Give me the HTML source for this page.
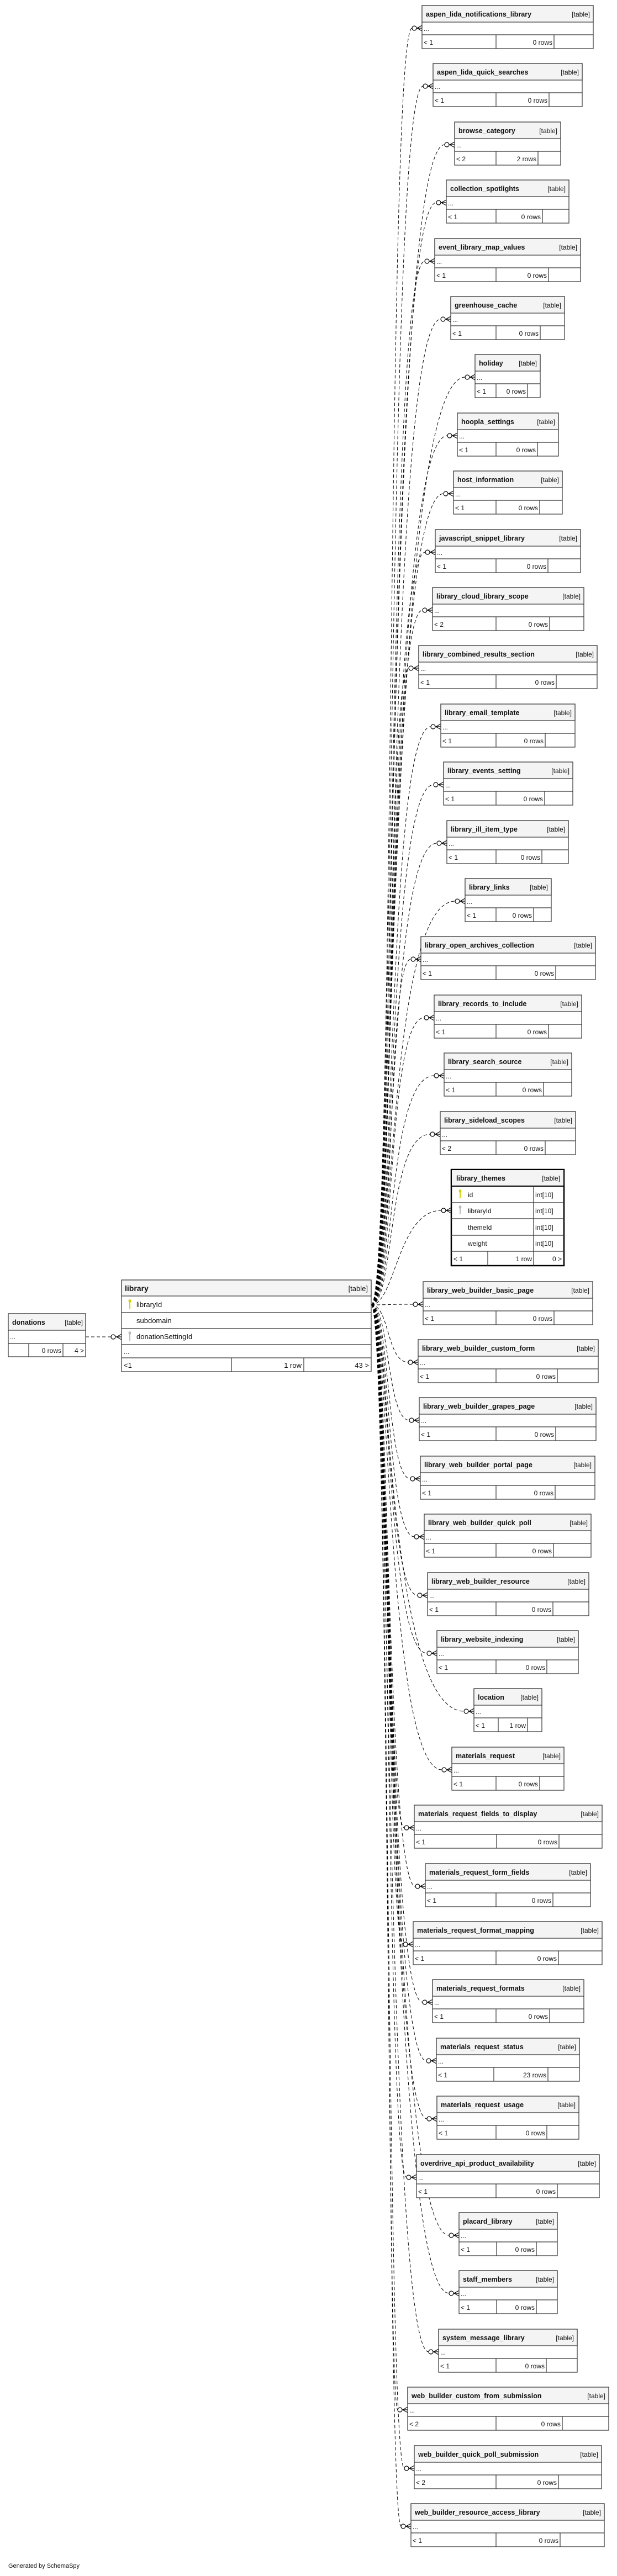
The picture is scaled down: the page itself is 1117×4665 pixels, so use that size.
<!DOCTYPE html>
<html><head><meta charset="utf-8"><style>
html,body{margin:0;padding:0;background:#fff}
svg{display:block}
text{font-family:"Liberation Sans","DejaVu Sans",sans-serif;font-size:12px;fill:#111}
.h{font-weight:bold;font-size:12.5px}
.lh{font-weight:bold;font-size:14px}
.lt{font-size:13px}
.box rect{fill:#fff;stroke:#333;stroke-width:1.2}
.box .hd{fill:#f4f4f4}
.box line{stroke:#333;stroke-width:1.2}
.e{fill:none;stroke:#000;stroke-width:1;stroke-dasharray:6,4}
.m{fill:none;stroke:#000;stroke-width:1.2}
.m circle{fill:#fff}
</style></head><body>
<svg width="1117" height="4665" viewBox="0 0 1117 4665" xmlns="http://www.w3.org/2000/svg">
<!-- edges -->
<g class="e">
<path d="M672,2363 C715,2363 700,51 746,51"/>
<path d="M672,2363 C715,2363 700,156 766,156"/>
<path d="M672,2363 C715,2363 700,262 805,262"/>
<path d="M672,2363 C715,2363 700,367 790,367"/>
<path d="M672,2363 C715,2363 700,473 769,473"/>
<path d="M672,2363 C715,2363 700,578 798,578"/>
<path d="M672,2363 C715,2363 700,683 842,683"/>
<path d="M672,2363 C715,2363 700,789 810,789"/>
<path d="M672,2363 C715,2363 700,894 803,894"/>
<path d="M672,2363 C715,2363 700,1000 770,1000"/>
<path d="M672,2363 C715,2363 700,1105 765,1105"/>
<path d="M672,2363 C715,2363 700,1210 740,1210"/>
<path d="M672,2363 C715,2363 700,1316 780,1316"/>
<path d="M672,2363 C715,2363 700,1421 785,1421"/>
<path d="M672,2363 C715,2363 700,1527 791,1527"/>
<path d="M672,2363 C715,2363 700,1632 824,1632"/>
<path d="M672,2363 C715,2363 700,1737 744,1737"/>
<path d="M672,2363 C715,2363 700,1843 768,1843"/>
<path d="M672,2363 C715,2363 700,1948 786,1948"/>
<path d="M672,2363 C715,2363 700,2054 779,2054"/>
<path d="M672,2363 C715,2363 720,2192 799,2192"/>
<path d="M672,2363 C700,2363 700,2362 748,2362"/>
<path d="M672,2363 C705,2363 700,2467 739,2467"/>
<path d="M672,2363 C705,2363 700,2572 741,2572"/>
<path d="M672,2363 C705,2363 700,2678 743,2678"/>
<path d="M672,2363 C705,2363 700,2783 750,2783"/>
<path d="M672,2363 C705,2363 700,2889 756,2889"/>
<path d="M672,2363 C705,2363 700,2994 773,2994"/>
<path d="M672,2363 C705,2363 700,3099 840,3099"/>
<path d="M672,2363 C705,2363 700,3205 800,3205"/>
<path d="M672,2363 C705,2363 700,3310 732,3310"/>
<path d="M672,2363 C705,2363 700,3416 752,3416"/>
<path d="M672,2363 C705,2363 700,3521 730,3521"/>
<path d="M672,2363 C705,2363 700,3626 765,3626"/>
<path d="M672,2363 C705,2363 700,3732 772,3732"/>
<path d="M672,2363 C705,2363 700,3837 773,3837"/>
<path d="M672,2363 C705,2363 700,3943 736,3943"/>
<path d="M672,2363 C705,2363 700,4048 813,4048"/>
<path d="M672,2363 C705,2363 700,4153 813,4153"/>
<path d="M672,2363 C705,2363 700,4259 776,4259"/>
<path d="M672,2363 C705,2363 700,4364 720,4364"/>
<path d="M672,2363 C705,2363 700,4470 732,4470"/>
<path d="M672,2363 C705,2363 700,4575 726,4575"/>
<path d="M155,2421 H201"/>
</g>
<g class="m">
<path d="M746,51H764M755,51L764,46M755,51L764,56"/><circle cx="750" cy="51" r="4"/>
<path d="M766,156H784M775,156L784,151M775,156L784,161"/><circle cx="770" cy="156" r="4"/>
<path d="M805,262H823M814,262L823,257M814,262L823,267"/><circle cx="809" cy="262" r="4"/>
<path d="M790,367H808M799,367L808,362M799,367L808,372"/><circle cx="794" cy="367" r="4"/>
<path d="M769,473H787M778,473L787,468M778,473L787,478"/><circle cx="773" cy="473" r="4"/>
<path d="M798,578H816M807,578L816,573M807,578L816,583"/><circle cx="802" cy="578" r="4"/>
<path d="M842,683H860M851,683L860,678M851,683L860,688"/><circle cx="846" cy="683" r="4"/>
<path d="M810,789H828M819,789L828,784M819,789L828,794"/><circle cx="814" cy="789" r="4"/>
<path d="M803,894H821M812,894L821,889M812,894L821,899"/><circle cx="807" cy="894" r="4"/>
<path d="M770,1000H788M779,1000L788,995M779,1000L788,1005"/><circle cx="774" cy="1000" r="4"/>
<path d="M765,1105H783M774,1105L783,1100M774,1105L783,1110"/><circle cx="769" cy="1105" r="4"/>
<path d="M740,1210H758M749,1210L758,1205M749,1210L758,1215"/><circle cx="744" cy="1210" r="4"/>
<path d="M780,1316H798M789,1316L798,1311M789,1316L798,1321"/><circle cx="784" cy="1316" r="4"/>
<path d="M785,1421H803M794,1421L803,1416M794,1421L803,1426"/><circle cx="789" cy="1421" r="4"/>
<path d="M791,1527H809M800,1527L809,1522M800,1527L809,1532"/><circle cx="795" cy="1527" r="4"/>
<path d="M824,1632H842M833,1632L842,1627M833,1632L842,1637"/><circle cx="828" cy="1632" r="4"/>
<path d="M744,1737H762M753,1737L762,1732M753,1737L762,1742"/><circle cx="748" cy="1737" r="4"/>
<path d="M768,1843H786M777,1843L786,1838M777,1843L786,1848"/><circle cx="772" cy="1843" r="4"/>
<path d="M786,1948H804M795,1948L804,1943M795,1948L804,1953"/><circle cx="790" cy="1948" r="4"/>
<path d="M779,2054H797M788,2054L797,2049M788,2054L797,2059"/><circle cx="783" cy="2054" r="4"/>
<path d="M799,2192H817M808,2192L817,2187M808,2192L817,2197"/><circle cx="803" cy="2192" r="4"/>
<path d="M748,2362H766M757,2362L766,2357M757,2362L766,2367"/><circle cx="752" cy="2362" r="4"/>
<path d="M739,2467H757M748,2467L757,2462M748,2467L757,2472"/><circle cx="743" cy="2467" r="4"/>
<path d="M741,2572H759M750,2572L759,2567M750,2572L759,2577"/><circle cx="745" cy="2572" r="4"/>
<path d="M743,2678H761M752,2678L761,2673M752,2678L761,2683"/><circle cx="747" cy="2678" r="4"/>
<path d="M750,2783H768M759,2783L768,2778M759,2783L768,2788"/><circle cx="754" cy="2783" r="4"/>
<path d="M756,2889H774M765,2889L774,2884M765,2889L774,2894"/><circle cx="760" cy="2889" r="4"/>
<path d="M773,2994H791M782,2994L791,2989M782,2994L791,2999"/><circle cx="777" cy="2994" r="4"/>
<path d="M840,3099H858M849,3099L858,3094M849,3099L858,3104"/><circle cx="844" cy="3099" r="4"/>
<path d="M800,3205H818M809,3205L818,3200M809,3205L818,3210"/><circle cx="804" cy="3205" r="4"/>
<path d="M732,3310H750M741,3310L750,3305M741,3310L750,3315"/><circle cx="736" cy="3310" r="4"/>
<path d="M752,3416H770M761,3416L770,3411M761,3416L770,3421"/><circle cx="756" cy="3416" r="4"/>
<path d="M730,3521H748M739,3521L748,3516M739,3521L748,3526"/><circle cx="734" cy="3521" r="4"/>
<path d="M765,3626H783M774,3626L783,3621M774,3626L783,3631"/><circle cx="769" cy="3626" r="4"/>
<path d="M772,3732H790M781,3732L790,3727M781,3732L790,3737"/><circle cx="776" cy="3732" r="4"/>
<path d="M773,3837H791M782,3837L791,3832M782,3837L791,3842"/><circle cx="777" cy="3837" r="4"/>
<path d="M736,3943H754M745,3943L754,3938M745,3943L754,3948"/><circle cx="740" cy="3943" r="4"/>
<path d="M813,4048H831M822,4048L831,4043M822,4048L831,4053"/><circle cx="817" cy="4048" r="4"/>
<path d="M813,4153H831M822,4153L831,4148M822,4153L831,4158"/><circle cx="817" cy="4153" r="4"/>
<path d="M776,4259H794M785,4259L794,4254M785,4259L794,4264"/><circle cx="780" cy="4259" r="4"/>
<path d="M720,4364H738M729,4364L738,4359M729,4364L738,4369"/><circle cx="724" cy="4364" r="4"/>
<path d="M732,4470H750M741,4470L750,4465M741,4470L750,4475"/><circle cx="736" cy="4470" r="4"/>
<path d="M726,4575H744M735,4575L744,4570M735,4575L744,4580"/><circle cx="730" cy="4575" r="4"/>
<path d="M201,2421H220M211,2421L220,2416M211,2421L220,2426"/><circle cx="205" cy="2421" r="4"/>
</g>

<!-- donations -->
<g class="box" transform="translate(15,2379)">
<rect width="140" height="78"/><rect class="hd" width="140" height="30"/>
<line x1="0" y1="54" x2="140" y2="54"/><line x1="37" y1="54" x2="37" y2="78"/><line x1="99" y1="54" x2="99" y2="78"/>
<text class="h" x="7" y="20">donations</text><text x="135" y="20" text-anchor="end">[table]</text>
<text x="3" y="46">...</text><text x="96" y="71" text-anchor="end">0 rows</text><text x="137" y="71" text-anchor="end">4 &gt;</text>
</g>

<!-- library -->
<g class="box" transform="translate(220,2318)">
<rect width="452" height="166"/><rect class="hd" width="452" height="29"/>
<line x1="0" y1="59" x2="452" y2="59"/><line x1="0" y1="88" x2="452" y2="88"/><line x1="0" y1="117" x2="452" y2="117"/><line x1="0" y1="141" x2="452" y2="141"/>
<line x1="199" y1="141" x2="199" y2="166"/><line x1="330" y1="141" x2="330" y2="166"/>
<text class="lh" x="6" y="20">library</text><text class="lt" x="446" y="20" text-anchor="end">[table]</text>
<ellipse cx="15" cy="38" rx="2.5" ry="3" fill="#d4d400" stroke="none"/><line x1="15" y1="40" x2="15" y2="52" stroke="#d4d400" style="stroke:#d4d400;stroke-width:2"/>
<text class="lt" x="27" y="49">libraryId</text>
<text class="lt" x="27" y="78">subdomain</text>
<ellipse cx="15" cy="96" rx="2.5" ry="3" fill="#bbb" stroke="none"/><line x1="15" y1="98" x2="15" y2="110" style="stroke:#bbb;stroke-width:2"/>
<text class="lt" x="27" y="107">donationSettingId</text>
<text x="4" y="134">...</text>
<text class="lt" x="4" y="159">&lt;1</text><text class="lt" x="326" y="159" text-anchor="end">1 row</text><text class="lt" x="448" y="159" text-anchor="end">43 &gt;</text>
</g>

<!-- library_themes -->
<g class="box" transform="translate(817,2118)">
<rect width="204" height="174" style="stroke:#000;stroke-width:2.5"/><rect class="hd" width="204" height="30" style="stroke:#000;stroke-width:2"/>
<line x1="0" y1="60" x2="204" y2="60"/><line x1="0" y1="89" x2="204" y2="89"/><line x1="0" y1="119" x2="204" y2="119"/><line x1="0" y1="148" x2="204" y2="148"/>
<line x1="149" y1="30" x2="149" y2="174"/><line x1="66" y1="148" x2="66" y2="174"/>
<text class="h" x="9" y="20">library_themes</text><text x="197" y="20" text-anchor="end">[table]</text>
<ellipse cx="16" cy="39" rx="2.5" ry="3" fill="#d4d400" stroke="none"/><line x1="16" y1="41" x2="16" y2="52" style="stroke:#d4d400;stroke-width:2"/>
<text x="30" y="50">id</text><text x="152" y="50">int[10]</text>
<ellipse cx="16" cy="68" rx="2.5" ry="3" fill="#bbb" stroke="none"/><line x1="16" y1="70" x2="16" y2="81" style="stroke:#bbb;stroke-width:2"/>
<text x="30" y="79">libraryId</text><text x="152" y="79">int[10]</text>
<text x="30" y="109">themeId</text><text x="152" y="109">int[10]</text>
<text x="30" y="138">weight</text><text x="152" y="138">int[10]</text>
<text x="4" y="166">&lt; 1</text><text x="146" y="166" text-anchor="end">1 row</text><text x="200" y="166" text-anchor="end">0 &gt;</text>
</g>

<!-- small tables: translate(x,top); width W; dividers d1,d2 relative -->
<g class="box" transform="translate(764,10)"><rect width="310" height="78"/><rect class="hd" width="310" height="30"/><line x1="0" y1="53" x2="310" y2="53"/><line x1="134" y1="53" x2="134" y2="78"/><line x1="239" y1="53" x2="239" y2="78"/><text class="h" x="7" y="20">aspen_lida_notifications_library</text><text x="304" y="20" text-anchor="end">[table]</text><text x="3" y="46">...</text><text x="3" y="71">&lt; 1</text><text x="236" y="71" text-anchor="end">0 rows</text></g>
<g class="box" transform="translate(784,115)"><rect width="270" height="78"/><rect class="hd" width="270" height="30"/><line x1="0" y1="53" x2="270" y2="53"/><line x1="114" y1="53" x2="114" y2="78"/><line x1="210" y1="53" x2="210" y2="78"/><text class="h" x="7" y="20">aspen_lida_quick_searches</text><text x="264" y="20" text-anchor="end">[table]</text><text x="3" y="46">...</text><text x="3" y="71">&lt; 1</text><text x="207" y="71" text-anchor="end">0 rows</text></g>
<g class="box" transform="translate(823,221)"><rect width="192" height="78"/><rect class="hd" width="192" height="30"/><line x1="0" y1="53" x2="192" y2="53"/><line x1="75" y1="53" x2="75" y2="78"/><line x1="151" y1="53" x2="151" y2="78"/><text class="h" x="7" y="20">browse_category</text><text x="186" y="20" text-anchor="end">[table]</text><text x="3" y="46">...</text><text x="3" y="71">&lt; 2</text><text x="148" y="71" text-anchor="end">2 rows</text></g>
<g class="box" transform="translate(808,326)"><rect width="222" height="78"/><rect class="hd" width="222" height="30"/><line x1="0" y1="53" x2="222" y2="53"/><line x1="90" y1="53" x2="90" y2="78"/><line x1="174" y1="53" x2="174" y2="78"/><text class="h" x="7" y="20">collection_spotlights</text><text x="216" y="20" text-anchor="end">[table]</text><text x="3" y="46">...</text><text x="3" y="71">&lt; 1</text><text x="171" y="71" text-anchor="end">0 rows</text></g>
<g class="box" transform="translate(787,432)"><rect width="264" height="78"/><rect class="hd" width="264" height="30"/><line x1="0" y1="53" x2="264" y2="53"/><line x1="111" y1="53" x2="111" y2="78"/><line x1="206" y1="53" x2="206" y2="78"/><text class="h" x="7" y="20">event_library_map_values</text><text x="258" y="20" text-anchor="end">[table]</text><text x="3" y="46">...</text><text x="3" y="71">&lt; 1</text><text x="203" y="71" text-anchor="end">0 rows</text></g>
<g class="box" transform="translate(816,537)"><rect width="206" height="78"/><rect class="hd" width="206" height="30"/><line x1="0" y1="53" x2="206" y2="53"/><line x1="82" y1="53" x2="82" y2="78"/><line x1="162" y1="53" x2="162" y2="78"/><text class="h" x="7" y="20">greenhouse_cache</text><text x="200" y="20" text-anchor="end">[table]</text><text x="3" y="46">...</text><text x="3" y="71">&lt; 1</text><text x="159" y="71" text-anchor="end">0 rows</text></g>
<g class="box" transform="translate(860,642)"><rect width="118" height="78"/><rect class="hd" width="118" height="30"/><line x1="0" y1="53" x2="118" y2="53"/><line x1="38" y1="53" x2="38" y2="78"/><line x1="95" y1="53" x2="95" y2="78"/><text class="h" x="7" y="20">holiday</text><text x="112" y="20" text-anchor="end">[table]</text><text x="3" y="46">...</text><text x="3" y="71">&lt; 1</text><text x="92" y="71" text-anchor="end">0 rows</text></g>
<g class="box" transform="translate(828,748)"><rect width="183" height="78"/><rect class="hd" width="183" height="30"/><line x1="0" y1="53" x2="183" y2="53"/><line x1="70" y1="53" x2="70" y2="78"/><line x1="145" y1="53" x2="145" y2="78"/><text class="h" x="7" y="20">hoopla_settings</text><text x="177" y="20" text-anchor="end">[table]</text><text x="3" y="46">...</text><text x="3" y="71">&lt; 1</text><text x="142" y="71" text-anchor="end">0 rows</text></g>
<g class="box" transform="translate(821,853)"><rect width="197" height="78"/><rect class="hd" width="197" height="30"/><line x1="0" y1="53" x2="197" y2="53"/><line x1="77" y1="53" x2="77" y2="78"/><line x1="156" y1="53" x2="156" y2="78"/><text class="h" x="7" y="20">host_information</text><text x="191" y="20" text-anchor="end">[table]</text><text x="3" y="46">...</text><text x="3" y="71">&lt; 1</text><text x="153" y="71" text-anchor="end">0 rows</text></g>
<g class="box" transform="translate(788,959)"><rect width="263" height="78"/><rect class="hd" width="263" height="30"/><line x1="0" y1="53" x2="263" y2="53"/><line x1="110" y1="53" x2="110" y2="78"/><line x1="204" y1="53" x2="204" y2="78"/><text class="h" x="7" y="20">javascript_snippet_library</text><text x="257" y="20" text-anchor="end">[table]</text><text x="3" y="46">...</text><text x="3" y="71">&lt; 1</text><text x="201" y="71" text-anchor="end">0 rows</text></g>
<g class="box" transform="translate(783,1064)"><rect width="274" height="78"/><rect class="hd" width="274" height="30"/><line x1="0" y1="53" x2="274" y2="53"/><line x1="115" y1="53" x2="115" y2="78"/><line x1="212" y1="53" x2="212" y2="78"/><text class="h" x="7" y="20">library_cloud_library_scope</text><text x="268" y="20" text-anchor="end">[table]</text><text x="3" y="46">...</text><text x="3" y="71">&lt; 2</text><text x="209" y="71" text-anchor="end">0 rows</text></g>
<g class="box" transform="translate(758,1169)"><rect width="323" height="78"/><rect class="hd" width="323" height="30"/><line x1="0" y1="53" x2="323" y2="53"/><line x1="140" y1="53" x2="140" y2="78"/><line x1="249" y1="53" x2="249" y2="78"/><text class="h" x="7" y="20">library_combined_results_section</text><text x="317" y="20" text-anchor="end">[table]</text><text x="3" y="46">...</text><text x="3" y="71">&lt; 1</text><text x="246" y="71" text-anchor="end">0 rows</text></g>
<g class="box" transform="translate(798,1275)"><rect width="243" height="78"/><rect class="hd" width="243" height="30"/><line x1="0" y1="53" x2="243" y2="53"/><line x1="100" y1="53" x2="100" y2="78"/><line x1="189" y1="53" x2="189" y2="78"/><text class="h" x="7" y="20">library_email_template</text><text x="237" y="20" text-anchor="end">[table]</text><text x="3" y="46">...</text><text x="3" y="71">&lt; 1</text><text x="186" y="71" text-anchor="end">0 rows</text></g>
<g class="box" transform="translate(803,1380)"><rect width="234" height="78"/><rect class="hd" width="234" height="30"/><line x1="0" y1="53" x2="234" y2="53"/><line x1="95" y1="53" x2="95" y2="78"/><line x1="183" y1="53" x2="183" y2="78"/><text class="h" x="7" y="20">library_events_setting</text><text x="228" y="20" text-anchor="end">[table]</text><text x="3" y="46">...</text><text x="3" y="71">&lt; 1</text><text x="180" y="71" text-anchor="end">0 rows</text></g>
<g class="box" transform="translate(809,1486)"><rect width="220" height="78"/><rect class="hd" width="220" height="30"/><line x1="0" y1="53" x2="220" y2="53"/><line x1="89" y1="53" x2="89" y2="78"/><line x1="172" y1="53" x2="172" y2="78"/><text class="h" x="7" y="20">library_ill_item_type</text><text x="214" y="20" text-anchor="end">[table]</text><text x="3" y="46">...</text><text x="3" y="71">&lt; 1</text><text x="169" y="71" text-anchor="end">0 rows</text></g>
<g class="box" transform="translate(842,1591)"><rect width="156" height="78"/><rect class="hd" width="156" height="30"/><line x1="0" y1="53" x2="156" y2="53"/><line x1="56" y1="53" x2="56" y2="78"/><line x1="124" y1="53" x2="124" y2="78"/><text class="h" x="7" y="20">library_links</text><text x="150" y="20" text-anchor="end">[table]</text><text x="3" y="46">...</text><text x="3" y="71">&lt; 1</text><text x="121" y="71" text-anchor="end">0 rows</text></g>
<g class="box" transform="translate(762,1696)"><rect width="316" height="78"/><rect class="hd" width="316" height="30"/><line x1="0" y1="53" x2="316" y2="53"/><line x1="136" y1="53" x2="136" y2="78"/><line x1="244" y1="53" x2="244" y2="78"/><text class="h" x="7" y="20">library_open_archives_collection</text><text x="310" y="20" text-anchor="end">[table]</text><text x="3" y="46">...</text><text x="3" y="71">&lt; 1</text><text x="241" y="71" text-anchor="end">0 rows</text></g>
<g class="box" transform="translate(786,1802)"><rect width="267" height="78"/><rect class="hd" width="267" height="30"/><line x1="0" y1="53" x2="267" y2="53"/><line x1="112" y1="53" x2="112" y2="78"/><line x1="207" y1="53" x2="207" y2="78"/><text class="h" x="7" y="20">library_records_to_include</text><text x="261" y="20" text-anchor="end">[table]</text><text x="3" y="46">...</text><text x="3" y="71">&lt; 1</text><text x="204" y="71" text-anchor="end">0 rows</text></g>
<g class="box" transform="translate(804,1907)"><rect width="231" height="78"/><rect class="hd" width="231" height="30"/><line x1="0" y1="53" x2="231" y2="53"/><line x1="94" y1="53" x2="94" y2="78"/><line x1="180" y1="53" x2="180" y2="78"/><text class="h" x="7" y="20">library_search_source</text><text x="225" y="20" text-anchor="end">[table]</text><text x="3" y="46">...</text><text x="3" y="71">&lt; 1</text><text x="177" y="71" text-anchor="end">0 rows</text></g>
<g class="box" transform="translate(797,2013)"><rect width="245" height="78"/><rect class="hd" width="245" height="30"/><line x1="0" y1="53" x2="245" y2="53"/><line x1="101" y1="53" x2="101" y2="78"/><line x1="190" y1="53" x2="190" y2="78"/><text class="h" x="7" y="20">library_sideload_scopes</text><text x="239" y="20" text-anchor="end">[table]</text><text x="3" y="46">...</text><text x="3" y="71">&lt; 2</text><text x="187" y="71" text-anchor="end">0 rows</text></g>

<g class="box" transform="translate(766,2321)"><rect width="307" height="78"/><rect class="hd" width="307" height="30"/><line x1="0" y1="53" x2="307" y2="53"/><line x1="132" y1="53" x2="132" y2="78"/><line x1="237" y1="53" x2="237" y2="78"/><text class="h" x="7" y="20">library_web_builder_basic_page</text><text x="301" y="20" text-anchor="end">[table]</text><text x="3" y="46">...</text><text x="3" y="71">&lt; 1</text><text x="234" y="71" text-anchor="end">0 rows</text></g>
<g class="box" transform="translate(757,2426)"><rect width="326" height="78"/><rect class="hd" width="326" height="30"/><line x1="0" y1="53" x2="326" y2="53"/><line x1="141" y1="53" x2="141" y2="78"/><line x1="252" y1="53" x2="252" y2="78"/><text class="h" x="7" y="20">library_web_builder_custom_form</text><text x="320" y="20" text-anchor="end">[table]</text><text x="3" y="46">...</text><text x="3" y="71">&lt; 1</text><text x="249" y="71" text-anchor="end">0 rows</text></g>
<g class="box" transform="translate(759,2531)"><rect width="320" height="78"/><rect class="hd" width="320" height="30"/><line x1="0" y1="53" x2="320" y2="53"/><line x1="139" y1="53" x2="139" y2="78"/><line x1="247" y1="53" x2="247" y2="78"/><text class="h" x="7" y="20">library_web_builder_grapes_page</text><text x="314" y="20" text-anchor="end">[table]</text><text x="3" y="46">...</text><text x="3" y="71">&lt; 1</text><text x="244" y="71" text-anchor="end">0 rows</text></g>
<g class="box" transform="translate(761,2637)"><rect width="316" height="78"/><rect class="hd" width="316" height="30"/><line x1="0" y1="53" x2="316" y2="53"/><line x1="137" y1="53" x2="137" y2="78"/><line x1="244" y1="53" x2="244" y2="78"/><text class="h" x="7" y="20">library_web_builder_portal_page</text><text x="310" y="20" text-anchor="end">[table]</text><text x="3" y="46">...</text><text x="3" y="71">&lt; 1</text><text x="241" y="71" text-anchor="end">0 rows</text></g>
<g class="box" transform="translate(768,2742)"><rect width="302" height="78"/><rect class="hd" width="302" height="30"/><line x1="0" y1="53" x2="302" y2="53"/><line x1="130" y1="53" x2="130" y2="78"/><line x1="234" y1="53" x2="234" y2="78"/><text class="h" x="7" y="20">library_web_builder_quick_poll</text><text x="296" y="20" text-anchor="end">[table]</text><text x="3" y="46">...</text><text x="3" y="71">&lt; 1</text><text x="231" y="71" text-anchor="end">0 rows</text></g>
<g class="box" transform="translate(774,2848)"><rect width="292" height="78"/><rect class="hd" width="292" height="30"/><line x1="0" y1="53" x2="292" y2="53"/><line x1="124" y1="53" x2="124" y2="78"/><line x1="227" y1="53" x2="227" y2="78"/><text class="h" x="7" y="20">library_web_builder_resource</text><text x="286" y="20" text-anchor="end">[table]</text><text x="3" y="46">...</text><text x="3" y="71">&lt; 1</text><text x="224" y="71" text-anchor="end">0 rows</text></g>
<g class="box" transform="translate(791,2953)"><rect width="256" height="78"/><rect class="hd" width="256" height="30"/><line x1="0" y1="53" x2="256" y2="53"/><line x1="107" y1="53" x2="107" y2="78"/><line x1="199" y1="53" x2="199" y2="78"/><text class="h" x="7" y="20">library_website_indexing</text><text x="250" y="20" text-anchor="end">[table]</text><text x="3" y="46">...</text><text x="3" y="71">&lt; 1</text><text x="196" y="71" text-anchor="end">0 rows</text></g>
<g class="box" transform="translate(858,3058)"><rect width="123" height="78"/><rect class="hd" width="123" height="30"/><line x1="0" y1="53" x2="123" y2="53"/><line x1="44" y1="53" x2="44" y2="78"/><line x1="97" y1="53" x2="97" y2="78"/><text class="h" x="7" y="20">location</text><text x="117" y="20" text-anchor="end">[table]</text><text x="3" y="46">...</text><text x="3" y="71">&lt; 1</text><text x="94" y="71" text-anchor="end">1 row</text></g>
<g class="box" transform="translate(818,3164)"><rect width="203" height="78"/><rect class="hd" width="203" height="30"/><line x1="0" y1="53" x2="203" y2="53"/><line x1="80" y1="53" x2="80" y2="78"/><line x1="159" y1="53" x2="159" y2="78"/><text class="h" x="7" y="20">materials_request</text><text x="197" y="20" text-anchor="end">[table]</text><text x="3" y="46">...</text><text x="3" y="71">&lt; 1</text><text x="156" y="71" text-anchor="end">0 rows</text></g>
<g class="box" transform="translate(750,3269)"><rect width="340" height="78"/><rect class="hd" width="340" height="30"/><line x1="0" y1="53" x2="340" y2="53"/><line x1="149" y1="53" x2="149" y2="78"/><line x1="262" y1="53" x2="262" y2="78"/><text class="h" x="7" y="20">materials_request_fields_to_display</text><text x="334" y="20" text-anchor="end">[table]</text><text x="3" y="46">...</text><text x="3" y="71">&lt; 1</text><text x="259" y="71" text-anchor="end">0 rows</text></g>
<g class="box" transform="translate(770,3375)"><rect width="299" height="78"/><rect class="hd" width="299" height="30"/><line x1="0" y1="53" x2="299" y2="53"/><line x1="128" y1="53" x2="128" y2="78"/><line x1="231" y1="53" x2="231" y2="78"/><text class="h" x="7" y="20">materials_request_form_fields</text><text x="293" y="20" text-anchor="end">[table]</text><text x="3" y="46">...</text><text x="3" y="71">&lt; 1</text><text x="228" y="71" text-anchor="end">0 rows</text></g>
<g class="box" transform="translate(748,3480)"><rect width="342" height="78"/><rect class="hd" width="342" height="30"/><line x1="0" y1="53" x2="342" y2="53"/><line x1="150" y1="53" x2="150" y2="78"/><line x1="263" y1="53" x2="263" y2="78"/><text class="h" x="7" y="20">materials_request_format_mapping</text><text x="336" y="20" text-anchor="end">[table]</text><text x="3" y="46">...</text><text x="3" y="71">&lt; 1</text><text x="260" y="71" text-anchor="end">0 rows</text></g>
<g class="box" transform="translate(783,3585)"><rect width="274" height="78"/><rect class="hd" width="274" height="30"/><line x1="0" y1="53" x2="274" y2="53"/><line x1="115" y1="53" x2="115" y2="78"/><line x1="212" y1="53" x2="212" y2="78"/><text class="h" x="7" y="20">materials_request_formats</text><text x="268" y="20" text-anchor="end">[table]</text><text x="3" y="46">...</text><text x="3" y="71">&lt; 1</text><text x="209" y="71" text-anchor="end">0 rows</text></g>
<g class="box" transform="translate(790,3691)"><rect width="259" height="78"/><rect class="hd" width="259" height="30"/><line x1="0" y1="53" x2="259" y2="53"/><line x1="104" y1="53" x2="104" y2="78"/><line x1="202" y1="53" x2="202" y2="78"/><text class="h" x="7" y="20">materials_request_status</text><text x="253" y="20" text-anchor="end">[table]</text><text x="3" y="46">...</text><text x="3" y="71">&lt; 1</text><text x="199" y="71" text-anchor="end">23 rows</text></g>
<g class="box" transform="translate(791,3796)"><rect width="257" height="78"/><rect class="hd" width="257" height="30"/><line x1="0" y1="53" x2="257" y2="53"/><line x1="107" y1="53" x2="107" y2="78"/><line x1="199" y1="53" x2="199" y2="78"/><text class="h" x="7" y="20">materials_request_usage</text><text x="251" y="20" text-anchor="end">[table]</text><text x="3" y="46">...</text><text x="3" y="71">&lt; 1</text><text x="196" y="71" text-anchor="end">0 rows</text></g>
<g class="box" transform="translate(754,3902)"><rect width="331" height="78"/><rect class="hd" width="331" height="30"/><line x1="0" y1="53" x2="331" y2="53"/><line x1="144" y1="53" x2="144" y2="78"/><line x1="255" y1="53" x2="255" y2="78"/><text class="h" x="7" y="20">overdrive_api_product_availability</text><text x="325" y="20" text-anchor="end">[table]</text><text x="3" y="46">...</text><text x="3" y="71">&lt; 1</text><text x="252" y="71" text-anchor="end">0 rows</text></g>
<g class="box" transform="translate(831,4007)"><rect width="178" height="78"/><rect class="hd" width="178" height="30"/><line x1="0" y1="53" x2="178" y2="53"/><line x1="68" y1="53" x2="68" y2="78"/><line x1="140" y1="53" x2="140" y2="78"/><text class="h" x="7" y="20">placard_library</text><text x="172" y="20" text-anchor="end">[table]</text><text x="3" y="46">...</text><text x="3" y="71">&lt; 1</text><text x="137" y="71" text-anchor="end">0 rows</text></g>
<g class="box" transform="translate(831,4112)"><rect width="178" height="78"/><rect class="hd" width="178" height="30"/><line x1="0" y1="53" x2="178" y2="53"/><line x1="68" y1="53" x2="68" y2="78"/><line x1="140" y1="53" x2="140" y2="78"/><text class="h" x="7" y="20">staff_members</text><text x="172" y="20" text-anchor="end">[table]</text><text x="3" y="46">...</text><text x="3" y="71">&lt; 1</text><text x="137" y="71" text-anchor="end">0 rows</text></g>
<g class="box" transform="translate(794,4218)"><rect width="251" height="78"/><rect class="hd" width="251" height="30"/><line x1="0" y1="53" x2="251" y2="53"/><line x1="104" y1="53" x2="104" y2="78"/><line x1="195" y1="53" x2="195" y2="78"/><text class="h" x="7" y="20">system_message_library</text><text x="245" y="20" text-anchor="end">[table]</text><text x="3" y="46">...</text><text x="3" y="71">&lt; 1</text><text x="192" y="71" text-anchor="end">0 rows</text></g>
<g class="box" transform="translate(738,4323)"><rect width="364" height="78"/><rect class="hd" width="364" height="30"/><line x1="0" y1="53" x2="364" y2="53"/><line x1="160" y1="53" x2="160" y2="78"/><line x1="280" y1="53" x2="280" y2="78"/><text class="h" x="7" y="20">web_builder_custom_from_submission</text><text x="358" y="20" text-anchor="end">[table]</text><text x="3" y="46">...</text><text x="3" y="71">&lt; 2</text><text x="277" y="71" text-anchor="end">0 rows</text></g>
<g class="box" transform="translate(750,4429)"><rect width="339" height="78"/><rect class="hd" width="339" height="30"/><line x1="0" y1="53" x2="339" y2="53"/><line x1="148" y1="53" x2="148" y2="78"/><line x1="261" y1="53" x2="261" y2="78"/><text class="h" x="7" y="20">web_builder_quick_poll_submission</text><text x="333" y="20" text-anchor="end">[table]</text><text x="3" y="46">...</text><text x="3" y="71">&lt; 2</text><text x="258" y="71" text-anchor="end">0 rows</text></g>
<g class="box" transform="translate(744,4534)"><rect width="350" height="78"/><rect class="hd" width="350" height="30"/><line x1="0" y1="53" x2="350" y2="53"/><line x1="154" y1="53" x2="154" y2="78"/><line x1="270" y1="53" x2="270" y2="78"/><text class="h" x="7" y="20">web_builder_resource_access_library</text><text x="344" y="20" text-anchor="end">[table]</text><text x="3" y="46">...</text><text x="3" y="71">&lt; 1</text><text x="267" y="71" text-anchor="end">0 rows</text></g>

<text x="15" y="4650" style="font-size:11px">Generated by SchemaSpy</text>
</svg>
</body></html>
